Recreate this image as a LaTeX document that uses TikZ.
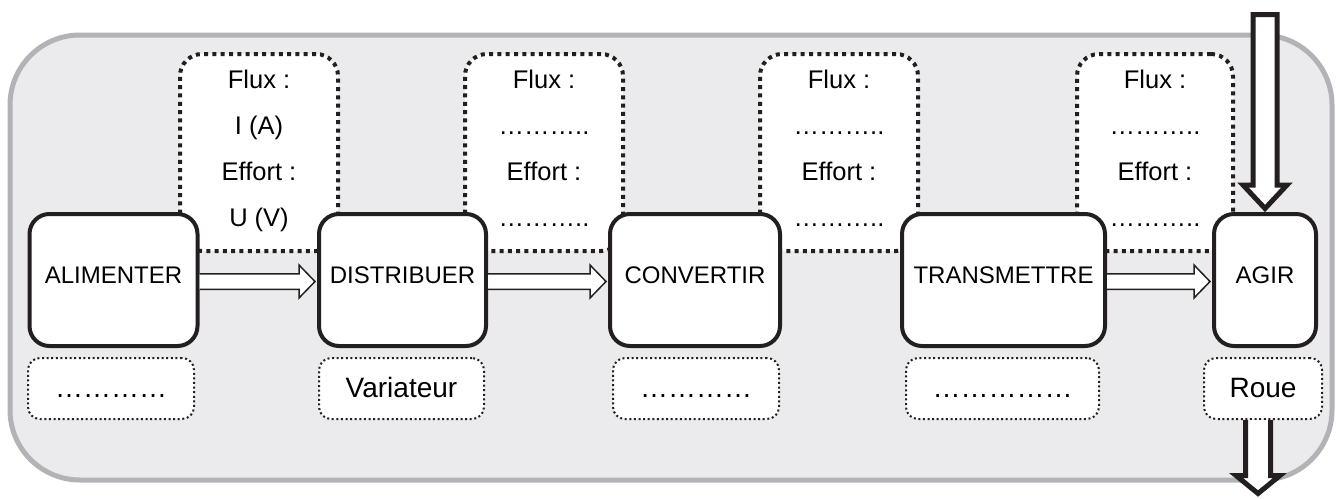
\documentclass[tikz,border=0pt]{standalone}
\usepackage{fontspec}
\setmainfont{Liberation Sans}
\usetikzlibrary{calc}
\definecolor{bgfill}{RGB}{235,235,237}
\definecolor{bgline}{RGB}{177,179,182}
\definecolor{ink}{RGB}{35,31,32}
\newcommand\hollowarrow[2]{%
  \draw[hollow] ($(#1.east)+(0,-6.25)$) -- ($(#2.west)+(-18,-6.25)$)
    -- ($(#2.west)+(-18,-15)$) -- ($(#2.west)+(-2,1.5)$)
    -- ($(#2.west)+(-18,18)$) -- ($(#2.west)+(-18,9.25)$)
    -- ($(#1.east)+(0,9.25)$);}
\begin{document}
\begin{tikzpicture}[x=1pt,y=-1pt,
  fonction/.style={draw=ink,fill=white,line width=4pt,rounded corners=20pt,
    minimum height=132pt,inner sep=0pt,font=\fontsize{24}{28}\selectfont,
    text height=17pt,text depth=10pt},
  fluxbox/.style={draw=ink,fill=white,line width=4pt,dash pattern=on 4pt off 4.3pt,
    rounded corners=22pt,minimum height=197pt,inner sep=0pt},
  fluxtxt/.style={anchor=base,inner sep=0pt,font=\fontsize{25.5}{30}\selectfont},
  solution/.style={draw=ink,fill=white,line width=2pt,dash pattern=on 2pt off 2.6pt,
    rounded corners=12pt,minimum height=61pt,inner sep=0pt,
    font=\fontsize{28}{32}\selectfont,text height=20pt,text depth=3pt},
  hollow/.style={draw=ink,fill=white,line width=1.5pt,line join=miter},
  bigarrow/.style={draw=ink,fill=white,line width=5pt,line join=miter,miter limit=10},
  cadre/.style={draw=bgline,fill=bgfill,line width=5pt,rounded corners=70pt}]
\useasboundingbox (0,0) rectangle (1336,498);
% background frame
\draw[cadre] (10,35) rectangle (1332,480);
% flux boxes
\node[fluxbox,minimum width=158pt] (F1) at (259,152.5) {};
\node[fluxbox,minimum width=158pt] (F2) at (544,152.5) {};
\node[fluxbox,minimum width=158pt] (F3) at (839,152.5) {};
\node[fluxbox,minimum width=156pt] (F4) at (1155,152.5) {};
% function boxes
\node[fonction,minimum width=168pt] (alim) at (113.5,280) {ALIMENTER};
\node[fonction,minimum width=167pt] (distr) at (402.5,280) {DISTRIBUER};
\node[fonction,minimum width=170pt] (conv) at (695,280) {CONVERTIR};
\node[fonction,minimum width=203pt] (trans) at (1003.5,280) {TRANSMETTRE};
\node[fonction,minimum width=102pt] (agir) at (1265,280) {AGIR};
% solution boxes
\node[solution,minimum width=166pt] (s1) at (111,388.5) {…………};
\node[solution,minimum width=165pt] (s2) at (401.5,388.5) {Variateur};
\node[solution,minimum width=166pt] (s3) at (696,388.5) {…………};
\node[solution,minimum width=193pt] (s4) at (1002.5,388.5) {……………};
\node[solution,minimum width=118pt] (roue) at (1263,388.5) {Roue};
% flux texts
\node[fluxtxt] (f1-a) at (259,88) {Flux :};
\node[fluxtxt] (f1-b) at (259,134) {I (A)};
\node[fluxtxt] (f1-c) at (259,180) {Effort :};
\node[fluxtxt] (f1-d) at (259,226) {U (V)};
\foreach \i/\x in {2/544,3/839,4/1155}{
  \node[fluxtxt] (f\i-a) at (\x,88) {Flux :};
  \node[fluxtxt] (f\i-b) at (\x,134) {………..};
  \node[fluxtxt] (f\i-c) at (\x,180) {Effort :};
  \node[fluxtxt] (f\i-d) at (\x,226) {………..};
}
% hollow arrows between functions
\hollowarrow{alim}{distr}
\hollowarrow{distr}{conv}
\hollowarrow{trans}{agir}
% big input arrow
\coordinate (src) at (1265,14.5);
\draw[bigarrow] ($(src)+(-12,0)$) -- ($(agir.north)+(-12,-27)$)
  -- ($(agir.north)+(-22,-27)$) -- ($(agir.north)+(0,-3.5)$)
  -- ($(agir.north)+(22,-27)$) -- ($(agir.north)+(12,-27)$)
  -- ($(src)+(12,0)$) -- cycle;
% big output arrow
\coordinate (sink) at (1258,493.5);
\draw[bigarrow] ($(roue.south -| sink)+(-12.5,0)$) -- ($(sink)+(-12.5,-18)$)
  -- ($(sink)+(-22,-18)$) -- (sink) -- ($(sink)+(22,-18)$)
  -- ($(sink)+(12.5,-18)$) -- ($(roue.south -| sink)+(12.5,0)$);
\end{tikzpicture}
\end{document}
